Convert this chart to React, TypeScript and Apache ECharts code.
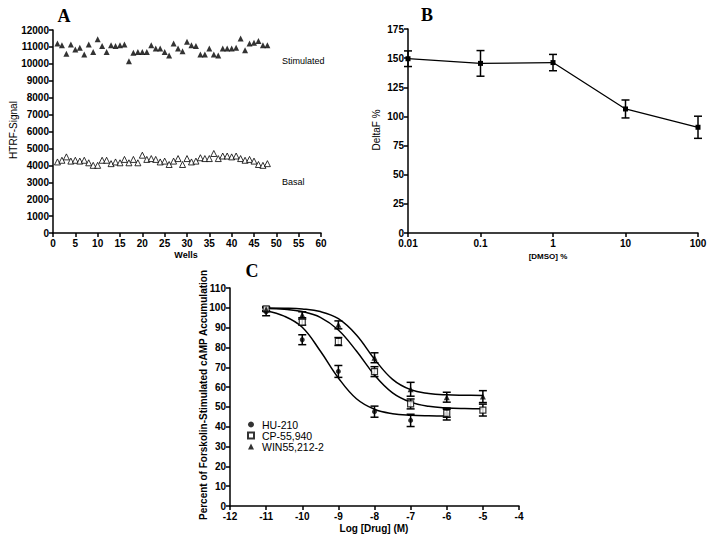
import React, { useEffect, useRef } from "react";
import * as echarts from "echarts";

// ---------- Panel A: HTRF signal per well ----------
const stimulated = [
  11200, 11100, 10600, 11150, 10850, 10950, 10550, 11150, 10700, 11450,
  11050, 10700, 11100, 11050, 11100, 11150, 10150, 10650, 10700, 10700,
  10700, 11100, 10900, 10900, 10700, 10500, 11200, 10900, 10750, 11300,
  11100, 11050, 10550, 10550, 10900, 10550, 10500, 10900, 10900, 10900,
  10950, 11500, 10800, 11200, 11250, 11350, 11100, 11100,
];
const basal = [
  4200, 4300, 4500, 4250, 4300, 4250, 4300, 4150, 4000, 4000,
  4300, 4300, 4100, 4200, 4150, 4350, 4150, 4350, 4150, 4600,
  4350, 4400, 4350, 4200, 4250, 4050, 4250, 4400, 4050, 4400,
  4200, 4250, 4450, 4400, 4400, 4700, 4400, 4550, 4550, 4500,
  4550, 4400, 4300, 4350, 4250, 4050, 4000, 4100,
];

// ---------- Panel B: DMSO tolerance ----------
const dmso = [0.01, 0.1, 1, 10, 100];
const deltaF = [149.5, 145.5, 146.2, 106.4, 90.7];
const deltaFErr = [6.7, 11, 7, 7.7, 9.5];

// ---------- Panel C: concentration-response ----------
const logDrug = [-11, -10, -9, -8, -7, -6, -5];
const hu210 = [98, 83.9, 67.9, 47.6, 43.2, 46.4];
const hu210Err = [2, 2.5, 3, 2.8, 3.1, 3];
const cp55940 = [99.5, 92.8, 83.0, 67.8, 51.5, 46.8, 48.4];
const cp55940Err = [1, 1.5, 2, 2.5, 2.5, 2, 3];
const win55212 = [99.3, 96.5, 91.4, 74.8, 58.9, 54.9, 55.2];
const win55212Err = [1, 1.5, 2, 2.5, 3.5, 2.5, 3];

// fitted curves at half-log steps
const fitLogDrug = [-11, -10.5, -10, -9.5, -9, -8.5, -8, -7.5, -7, -6.5, -6, -5.5, -5];
const hu210Fit = [98.4, 95.8, 90.2, 78.2, 64.6, 54.1, 48.8, 46.6, 45.8, 45.5, 45.4];
const cp55940Fit = [99.7, 99.3, 98.1, 95.2, 88.8, 78.2, 66.1, 57.1, 52.4, 50.3, 49.5, 49.2, 49.1];
const win55212Fit = [99.9, 99.8, 99.4, 98.1, 94.5, 86.3, 74.1, 63.9, 58.7, 56.8, 56.1, 55.9, 55.8];

const FONT = "Liberation Sans, Arial, sans-serif";
const SERIF = "Liberation Serif, Times New Roman, serif";

const fmtNum = (v: number) => String(parseFloat(Number(v).toPrecision(6)));

const axisBase = (extra: any, labelMargin = 4) => ({
  type: "value",
  axisLine: { show: true, onZero: false, lineStyle: { color: "#000", width: 1.5 } },
  axisTick: { show: true, inside: false, length: 4, lineStyle: { color: "#000", width: 1.5 } },
  axisLabel: {
    color: "#000",
    fontSize: 10,
    fontWeight: "bold",
    fontFamily: FONT,
    margin: labelMargin,
    formatter: fmtNum,
  },
  splitLine: { show: false },
  ...extra,
});

const errorSeries = (xs: number[], ys: number[], errs: number[], axisIdx: number, cap: number) => ({
  type: "custom",
  xAxisIndex: axisIdx,
  yAxisIndex: axisIdx,
  silent: true,
  z: 3,
  encode: { x: 0, y: [1, 2] },
  data: ys.map((y, i) => [xs[i], y - errs[i], y + errs[i]]),
  renderItem: (params: any, api: any) => {
    const x = api.value(0);
    const top = api.coord([x, api.value(2)]);
    const bot = api.coord([x, api.value(1)]);
    const st = { stroke: "#000", lineWidth: 1.5 };
    return {
      type: "group",
      children: [
        { type: "line", shape: { x1: top[0], y1: top[1], x2: bot[0], y2: bot[1] }, style: st },
        { type: "line", shape: { x1: top[0] - cap, y1: top[1], x2: top[0] + cap, y2: top[1] }, style: st },
        { type: "line", shape: { x1: bot[0] - cap, y1: bot[1], x2: bot[0] + cap, y2: bot[1] }, style: st },
      ],
    };
  },
});

export default function App() {
  const ref = useRef<HTMLDivElement>(null);

  useEffect(() => {
    document.body.style.margin = "0";
    const chart = echarts.init(ref.current!, null, { renderer: "svg" });
    const option: any = {
      animation: false,
      backgroundColor: "#fff",
      textStyle: { fontFamily: FONT },
      grid: [
        { left: 53, top: 30, width: 268, height: 203, outerBoundsMode: "none" },
        { left: 408, top: 29, width: 290, height: 204, outerBoundsMode: "none" },
        { left: 230, top: 288, width: 289, height: 218, outerBoundsMode: "none" },
      ],
      xAxis: [
        axisBase({ gridIndex: 0, min: 0, max: 60, interval: 5 }, 5),
        axisBase({ gridIndex: 1, type: "log", logBase: 10, min: 0.01, max: 100, minorTick: { show: false } }, 5),
        axisBase({ gridIndex: 2, min: -12, max: -4, interval: 1 }, 5),
      ],
      yAxis: [
        axisBase({ gridIndex: 0, min: 0, max: 12000, interval: 1000 }),
        axisBase({ gridIndex: 1, min: 0, max: 175, interval: 25 }),
        axisBase({ gridIndex: 2, min: 0, max: 110, interval: 10 }),
      ],
      legend: {
        orient: "vertical",
        left: 247,
        top: 419,
        padding: 0,
        itemWidth: 6,
        itemHeight: 6,
        itemGap: 0,
        data: ["HU-210", "CP-55,940", "WIN55,212-2"],
        textStyle: { color: "#000", fontSize: 10.5, lineHeight: 10, fontFamily: FONT, padding: [0, 0, 0, 3] },
      },
      series: [
        // Panel A
        {
          name: "Stimulated",
          type: "scatter",
          xAxisIndex: 0,
          yAxisIndex: 0,
          symbol: "triangle",
          symbolSize: 6,
          itemStyle: { color: "#000" },
          data: stimulated.map((v, i) => [i + 1, v]),
        },
        {
          name: "Basal",
          type: "scatter",
          xAxisIndex: 0,
          yAxisIndex: 0,
          symbol: "triangle",
          symbolSize: 6,
          itemStyle: { color: "#fff", borderColor: "#000", borderWidth: 1 },
          data: basal.map((v, i) => [i + 1, v]),
        },
        // Panel B
        errorSeries(dmso, deltaF, deltaFErr, 1, 4),
        {
          name: "DeltaF",
          type: "line",
          xAxisIndex: 1,
          yAxisIndex: 1,
          symbol: "rect",
          symbolSize: 5,
          showSymbol: true,
          z: 4,
          lineStyle: { color: "#000", width: 1.3 },
          itemStyle: { color: "#000" },
          data: dmso.map((d, i) => [d, deltaF[i]]),
        },
        // Panel C fitted curves
        {
          name: "HU-210 fit",
          type: "line",
          xAxisIndex: 2,
          yAxisIndex: 2,
          smooth: 0.4,
          showSymbol: false,
          lineStyle: { color: "#000", width: 1.5 },
          data: hu210Fit.map((v, i) => [fitLogDrug[i], v]),
        },
        {
          name: "CP-55,940 fit",
          type: "line",
          xAxisIndex: 2,
          yAxisIndex: 2,
          smooth: 0.4,
          showSymbol: false,
          lineStyle: { color: "#000", width: 1.5 },
          data: cp55940Fit.map((v, i) => [fitLogDrug[i], v]),
        },
        {
          name: "WIN55,212-2 fit",
          type: "line",
          xAxisIndex: 2,
          yAxisIndex: 2,
          smooth: 0.4,
          showSymbol: false,
          lineStyle: { color: "#000", width: 1.5 },
          data: win55212Fit.map((v, i) => [fitLogDrug[i], v]),
        },
        errorSeries(logDrug, hu210, hu210Err, 2, 4),
        errorSeries(logDrug, cp55940, cp55940Err, 2, 4),
        errorSeries(logDrug, win55212, win55212Err, 2, 4),
        {
          name: "HU-210",
          type: "scatter",
          xAxisIndex: 2,
          yAxisIndex: 2,
          symbol: "circle",
          symbolSize: 5,
          z: 5,
          itemStyle: { color: "#000" },
          data: hu210.map((v, i) => [logDrug[i], v]),
        },
        {
          name: "CP-55,940",
          type: "scatter",
          xAxisIndex: 2,
          yAxisIndex: 2,
          symbol: "rect",
          symbolSize: 6,
          z: 5,
          itemStyle: { color: "#fff", borderColor: "#000", borderWidth: 1.2 },
          data: cp55940.map((v, i) => [logDrug[i], v]),
        },
        {
          name: "WIN55,212-2",
          type: "scatter",
          xAxisIndex: 2,
          yAxisIndex: 2,
          symbol: "triangle",
          symbolSize: 6,
          z: 5,
          itemStyle: { color: "#000" },
          data: win55212.map((v, i) => [logDrug[i], v]),
        },
      ],
      graphic: [
        { type: "text", x: 64, y: 16, style: { text: "A", font: `bold 18px ${SERIF}`, fill: "#000", align: "center", verticalAlign: "middle" } },
        { type: "text", x: 427, y: 15, style: { text: "B", font: `bold 18px ${SERIF}`, fill: "#000", align: "center", verticalAlign: "middle" } },
        { type: "text", x: 252, y: 271, style: { text: "C", font: `bold 18px ${SERIF}`, fill: "#000", align: "center", verticalAlign: "middle" } },
        { type: "text", x: 282, y: 61, style: { text: "Stimulated", font: `9px ${FONT}`, fill: "#000", align: "left", verticalAlign: "middle" } },
        { type: "text", x: 282, y: 182, style: { text: "Basal", font: `9px ${FONT}`, fill: "#000", align: "left", verticalAlign: "middle" } },
        { type: "text", x: 13, y: 130, rotation: Math.PI / 2, style: { text: "HTRF-Signal", font: `10px ${FONT}`, fill: "#000", align: "center", verticalAlign: "middle" } },
        { type: "text", x: 186, y: 255, style: { text: "Wells", font: `bold 9px ${FONT}`, fill: "#000", align: "center", verticalAlign: "middle" } },
        { type: "text", x: 376, y: 130, rotation: Math.PI / 2, style: { text: "DeltaF %", font: `10px ${FONT}`, fill: "#000", align: "center", verticalAlign: "middle" } },
        { type: "text", x: 548, y: 256, style: { text: "[DMSO] %", font: `bold 8px ${FONT}`, fill: "#000", align: "center", verticalAlign: "middle" } },
        { type: "text", x: 203, y: 395, rotation: Math.PI / 2, style: { text: "Percent of Forskolin-Stimulated cAMP Accumulation", font: `bold 10px ${FONT}`, fill: "#000", align: "center", verticalAlign: "middle" } },
        { type: "text", x: 374, y: 528, style: { text: "Log [Drug] (M)", font: `bold 10px ${FONT}`, fill: "#000", align: "center", verticalAlign: "middle" } },
      ],
    };
    chart.setOption(option);
    return () => chart.dispose();
  }, []);

  return <div ref={ref} style={{ width: 714, height: 543 }} />;
}
